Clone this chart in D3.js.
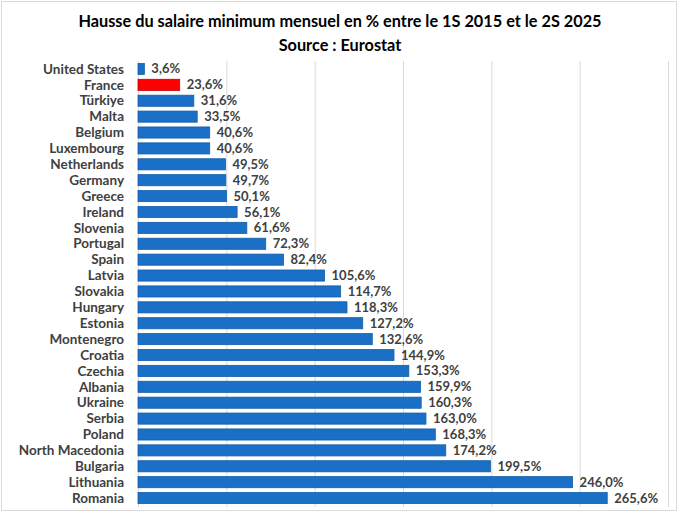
<!DOCTYPE html>
<html>
<head>
<meta charset="utf-8">
<script src="https://cdn.jsdelivr.net/npm/d3@7"></script>
<style>
    body { margin: 0; background: #fff; }
    #chart { width: 680px; height: 516px; }
    text { font-family: Lato, "Open Sans", sans-serif; font-weight: bold; }
</style>
</head>
<body>
<div id="chart"></div>
<script>
// countries, top to bottom
const countries = ["United States", "France", "Türkiye", "Malta", "Belgium", "Luxembourg",
    "Netherlands", "Germany", "Greece", "Ireland", "Slovenia", "Portugal", "Spain", "Latvia",
    "Slovakia", "Hungary", "Estonia", "Montenegro", "Croatia", "Czechia", "Albania", "Ukraine",
    "Serbia", "Poland", "North Macedonia", "Bulgaria", "Lithuania", "Romania"];

// % rise of monthly minimum wage, 1S 2015 -> 2S 2025
const increases = [3.6, 23.6, 31.6, 33.5, 40.6, 40.6, 49.5, 49.7, 50.1, 56.1, 61.6, 72.3,
    82.4, 105.6, 114.7, 118.3, 127.2, 132.6, 144.9, 153.3, 159.9, 160.3, 163.0, 168.3,
    174.2, 199.5, 246.0, 265.6];

const xTicks = [0, 50, 100, 150, 200, 250, 300];
const highlight = "France";

const titleLines = ["Hausse du salaire minimum mensuel en % entre le 1S 2015 et le 2S 2025",
    "Source : Eurostat"];

let data = countries.map((c, i) => ({country: c, value: increases[i]}));

let width = 680, height = 516;
let margin = {top: 61, right: 12, bottom: 10, left: 138};

let svg = d3.select("#chart").append("svg")
    .attr("width", width)
    .attr("height", height);

// outer frame
svg.append("rect")
    .attr("x", 1.5).attr("y", 1.5)
    .attr("width", width - 5).attr("height", height - 7)
    .attr("fill", "#fff")
    .attr("stroke", "#d9d9d9");

// scales
let x = d3.scaleLinear()
    .domain([0, 300])
    .range([margin.left, width - margin.right]);

let y = d3.scaleBand()
    .domain(countries)
    .range([margin.top, 506])
    .paddingInner(0.3)
    .paddingOuter(0.15);

// gridlines
svg.append("g")
    .attr("class", "grid")
    .selectAll("line")
    .data(xTicks)
    .enter()
    .append("line")
    .attr("x1", d => x(d) + 0.5)
    .attr("x2", d => x(d) + 0.5)
    .attr("y1", margin.top)
    .attr("y2", 507)
    .attr("stroke", "#d9d9d9")
    .attr("stroke-width", 1);

// title
svg.append("g")
    .selectAll("text")
    .data(titleLines)
    .enter()
    .append("text")
    .attr("x", 340)
    .attr("y", (d, i) => 27 + i * 24)
    .attr("text-anchor", "middle")
    .attr("font-size", 16.3)
    .attr("fill", "#000")
    .text(d => d);

// bars
svg.append("g")
    .selectAll("rect")
    .data(data)
    .enter()
    .append("rect")
    .attr("x", x(0))
    .attr("y", d => y(d.country))
    .attr("width", d => x(d.value) - x(0))
    .attr("height", y.bandwidth())
    .attr("fill", d => d.country === highlight ? "#ff0000" : "#1a6fc6")
    .attr("stroke", d => d.country === highlight ? "#c00000" : "#155fa8")
    .attr("stroke-width", 0.8);

// country labels
svg.append("g")
    .selectAll("text")
    .data(data)
    .enter()
    .append("text")
    .attr("x", 124)
    .attr("y", d => y(d.country) + y.bandwidth() / 2)
    .attr("dy", "0.35em")
    .attr("text-anchor", "end")
    .attr("font-size", 13.5)
    .attr("fill", "#404040")
    .text(d => d.country);

// value labels
let fmt = v => d3.format(".1f")(v).replace(".", ",") + "%";

svg.append("g")
    .selectAll("text")
    .data(data)
    .enter()
    .append("text")
    .attr("x", d => x(d.value) + 7)
    .attr("y", d => y(d.country) + y.bandwidth() / 2)
    .attr("dy", "0.35em")
    .attr("font-size", 13)
    .attr("fill", "#404040")
    .text(d => fmt(d.value));
</script>
</body>
</html>
